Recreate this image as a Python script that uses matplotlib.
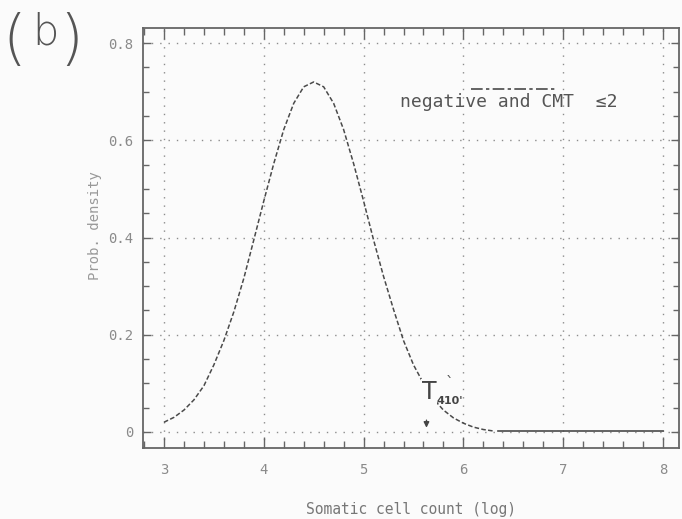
import matplotlib
matplotlib.use("Agg")
import matplotlib.pyplot as plt
from matplotlib.ticker import MultipleLocator

# ---- data ----
curve_x = [3.0, 3.1, 3.2, 3.3, 3.4, 3.5, 3.6, 3.7, 3.8, 3.9,
           4.0, 4.1, 4.2, 4.3, 4.4, 4.5, 4.6, 4.7, 4.8, 4.9,
           5.0, 5.1, 5.2, 5.3, 5.4, 5.5, 5.6, 5.7, 5.8, 5.9,
           6.0, 6.1, 6.2, 6.3]
curve_y = [0.020, 0.030, 0.045, 0.066, 0.095, 0.138, 0.188, 0.247, 0.316, 0.395,
           0.475, 0.552, 0.622, 0.676, 0.710, 0.720, 0.710, 0.676, 0.622, 0.552,
           0.475, 0.395, 0.320, 0.252, 0.188, 0.138, 0.100, 0.068, 0.045, 0.029,
           0.018, 0.010, 0.005, 0.002]
tail_x = [6.35, 8.0]
tail_y = [0.001, 0.001]

x_ticks = [3, 4, 5, 6, 7, 8]
y_ticks = [0, 0.2, 0.4, 0.6, 0.8]
y_ticklabels = ["0", "0.2", "0.4", "0.6", "0.8"]
legend_label = "negative and CMT  \u22642"
threshold_x = 5.63
xlabel = "Somatic cell count (log)"
ylabel = "Prob. density"

MONO = ["DejaVu Sans Mono"]
GRAY_TXT = "#8a8a8a"
INK = "#4a4a4a"

fig = plt.figure(figsize=(6.82, 5.19), dpi=100, facecolor="#fbfbfb")
W, H = 682, 519
ax = fig.add_axes([143 / W, 1 - 448 / H, (679 - 143) / W, (448 - 28) / H])
ax.set_facecolor("#fbfbfb")

ax.set_xlim(2.79, 8.16)
ax.set_ylim(-0.033, 0.831)

# grid
for xv in x_ticks:
    ax.axvline(xv, color="#8c8c8c", lw=1.0, ls=(0, (1, 5)), zorder=1)
for yv in y_ticks:
    ax.axhline(yv, color="#8c8c8c", lw=1.0, ls=(0, (1, 5)), zorder=1)

# curve
ax.plot(curve_x, curve_y, color=INK, lw=1.1, ls=(0, (3, 1.5)), zorder=3)
ax.plot(tail_x, tail_y, color=INK, lw=1.2, zorder=3)

# ticks
ax.set_xticks(x_ticks)
ax.set_xticklabels([str(v) for v in x_ticks])
ax.xaxis.set_minor_locator(MultipleLocator(0.2))
ax.set_yticks(y_ticks)
ax.set_yticklabels(y_ticklabels)
ax.yaxis.set_minor_locator(MultipleLocator(0.05))
ax.tick_params(which="both", direction="in", top=True, right=True,
               color="#666666", width=1.0)
ax.tick_params(axis="x", which="major", length=8, pad=11)
ax.tick_params(axis="x", which="minor", length=5)
ax.tick_params(axis="y", which="major", length=6, pad=7)
ax.tick_params(axis="y", which="minor", length=4)
for lab in ax.get_xticklabels() + ax.get_yticklabels():
    lab.set_family(MONO)
    lab.set_fontsize(10)
    lab.set_color(GRAY_TXT)

for sp in ax.spines.values():
    sp.set_color("#666666")
    sp.set_linewidth(1.3)

ax.set_xlabel(xlabel, family=MONO, fontsize=10.5, color="#777777", labelpad=18)
ax.set_ylabel(ylabel, family=MONO, fontsize=10, color="#999999")
ax.yaxis.set_label_coords(-(143 - 102) / (679 - 143), 0.53)

# legend (line above the text, as in the plot)
ax.plot([6.08, 6.93], [0.706, 0.706], color=INK, lw=1.2,
        ls=(0, (7, 2, 2, 2)), zorder=3)
ax.text(5.36, 0.679, legend_label, family=MONO, fontsize=13, color="#555555",
        ha="left", va="center")

# threshold annotation
ax.text(5.585, 0.082, "T", family=["DejaVu Sans"], fontsize=17, color="#444444",
        ha="left", va="center", zorder=4,
        bbox=dict(facecolor="#fbfbfb", edgecolor="none", pad=0.5))
ax.text(5.73, 0.064, "410'", family=["DejaVu Sans"], fontsize=8, color="#444444",
        ha="left", va="center", fontweight="bold")
ax.text(5.86, 0.100, "`", family=["DejaVu Sans"], fontsize=11, color="#555555",
        ha="center", va="center")
ax.annotate("", xy=(threshold_x, 0.003), xytext=(threshold_x, 0.03),
            arrowprops=dict(arrowstyle="-|>", color="#444444", lw=1.0,
                            mutation_scale=8))

# panel label
fig.text(14 / W, 1 - 42 / H, "(", fontsize=44, color="#555555",
         family=["DejaVu Sans"], ha="center", va="center", fontweight="light")
fig.text(45 / W, 1 - 32 / H, "b", fontsize=30, color="#555555",
         family=["DejaVu Sans"], ha="center", va="center", fontweight="light")
fig.text(71 / W, 1 - 42 / H, ")", fontsize=44, color="#555555",
         family=["DejaVu Sans"], ha="center", va="center", fontweight="light")

fig.savefig("out.png", dpi=100, facecolor=fig.get_facecolor())
